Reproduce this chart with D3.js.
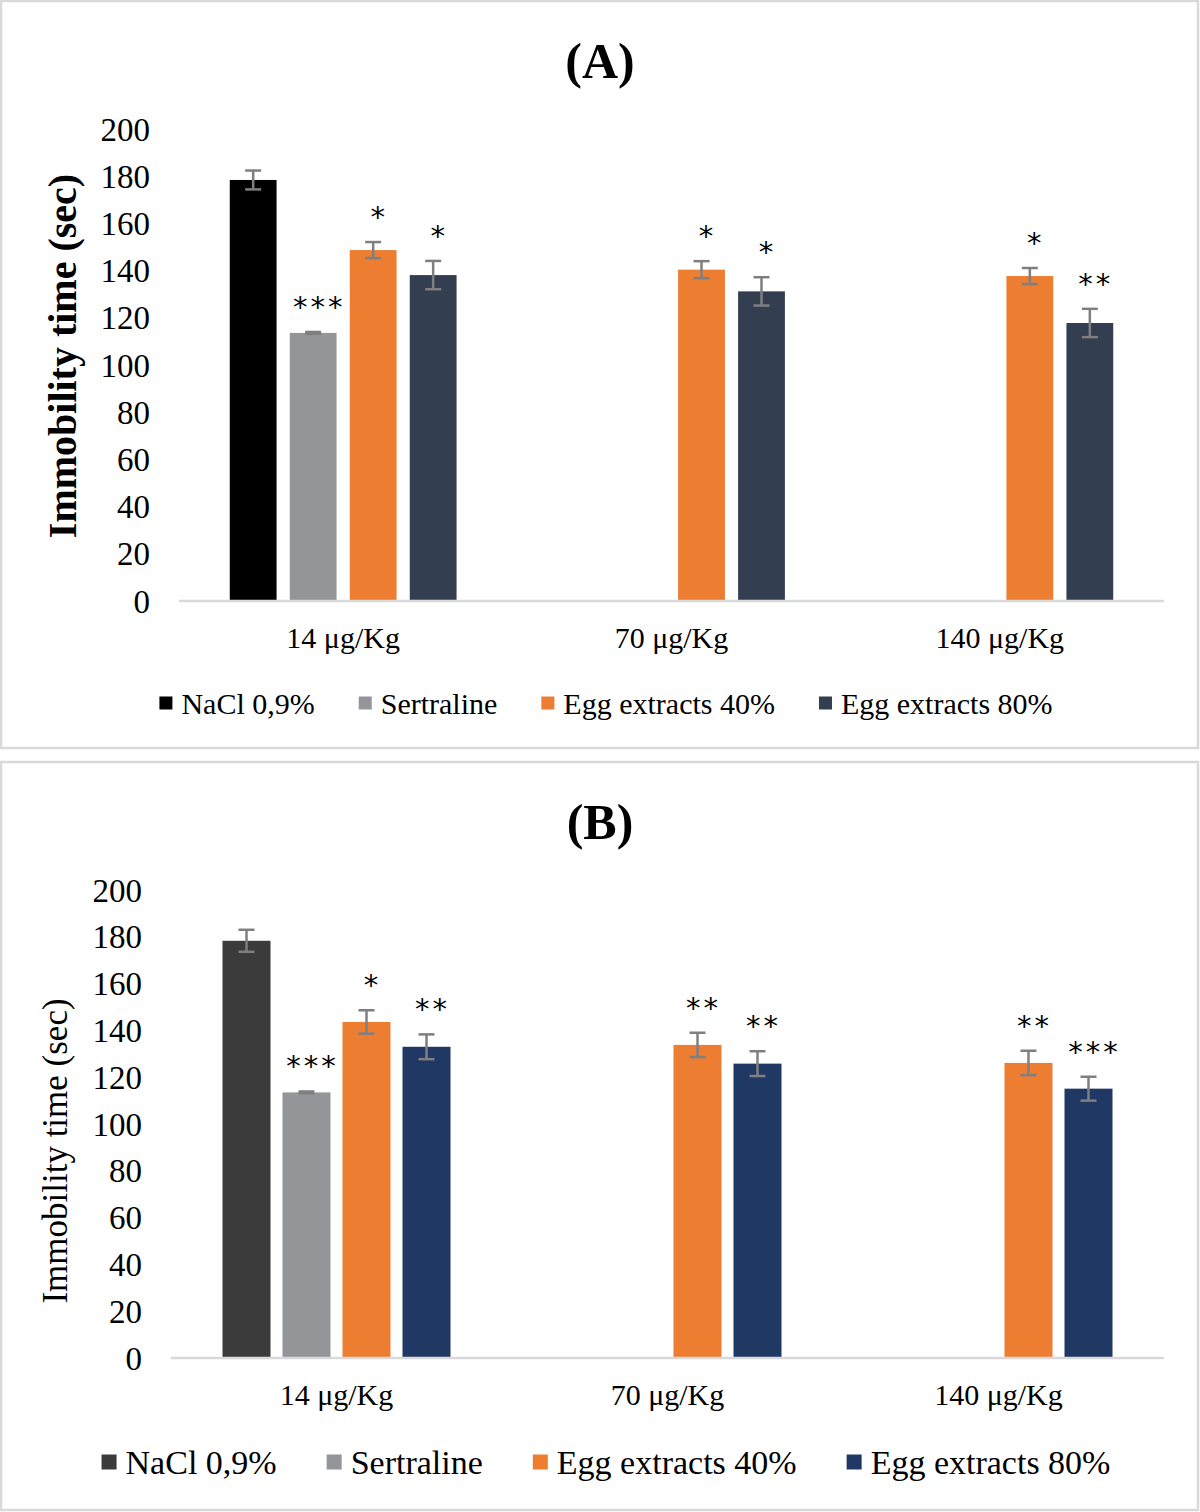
<!DOCTYPE html>
<html>
<head>
<meta charset="utf-8">
<script src="https://cdn.jsdelivr.net/npm/d3@7"></script>
<style>
    body { margin: 0; background: #fff; }
    svg { display: block; }
    text { font-family: "Liberation Serif", "Times New Roman", serif; fill: #000; }
    text.stars { font-family: "DejaVu Sans", sans-serif; }
</style>
</head>
<body>
<div id="chart"></div>
<script>
// data
const categories = ["14 μg/Kg", "70 μg/Kg", "140 μg/Kg"];
const seriesNames = ["NaCl 0,9%", "Sertraline", "Egg extracts 40%", "Egg extracts 80%"];
const yTicks = [0, 20, 40, 60, 80, 100, 120, 140, 160, 180, 200];

// panel A (null = no bar at that dose)
const nacl_A = [178.4, null, null];
const sertraline_A = [113.6, null, null];
const egg40_A = [148.7, 140.4, 137.7];
const egg80_A = [138.1, 131.2, 117.8];
const naclErr_A = [4.0, null, null];
const sertralineErr_A = [0.4, null, null];
const egg40Err_A = [3.4, 3.6, 3.4];
const egg80Err_A = [6.0, 6.0, 6.0];
const naclStars_A = ["", "", ""];
const sertralineStars_A = ["***", "", ""];
const egg40Stars_A = ["*", "*", "*"];
const egg80Stars_A = ["*", "*", "**"];

// panel B
const nacl_B = [178.3, null, null];
const sertraline_B = [113.5, null, null];
const egg40_B = [143.6, 133.8, 126.1];
const egg80_B = [133.0, 125.8, 115.1];
const naclErr_B = [4.7, null, null];
const sertralineErr_B = [0.4, null, null];
const egg40Err_B = [5.0, 5.2, 5.2];
const egg80Err_B = [5.3, 5.3, 5.1];
const naclStars_B = ["", "", ""];
const sertralineStars_B = ["***", "", ""];
const egg40Stars_B = ["*", "**", "**"];
const egg80Stars_B = ["**", "**", "***"];

const colorsA = ["#000000", "#939598", "#ED7D31", "#333F50"];
const colorsB = ["#3B3B3B", "#939598", "#ED7D31", "#203864"];


class BarPanel {

    constructor(_svg, _config) {
        this.svg = _svg;
        this.cfg = _config;
        this.initVis();
    }

    initVis() {
        let vis = this;
        let c = vis.cfg;

        vis.g = vis.svg.append("g");

        // frame
        vis.g.append("rect")
            .attr("x", 1).attr("y", c.frameTop)
            .attr("width", 1197).attr("height", c.frameHeight)
            .attr("fill", "#fff")
            .attr("stroke", "#d9d9d9")
            .attr("stroke-width", 2.5);

        vis.g.append("text")
            .attr("x", 600).attr("y", c.titleY)
            .attr("text-anchor", "middle")
            .attr("font-size", 50)
            .attr("font-weight", "bold")
            .text(c.title);

        vis.x0 = d3.scaleBand().domain(categories).range([c.left, c.right]);
        vis.x1 = d3.scaleBand().domain(seriesNames).range([-120, 120])
            .paddingInner(c.barPad).paddingOuter(c.barPad / 2);
        vis.y = d3.scaleLinear().domain([0, 200]).range([c.bottom, c.top]);

        // y tick labels, no axis line
        vis.g.selectAll(".ytick")
            .data(yTicks)
            .enter().append("text")
            .attr("class", "ytick")
            .attr("x", c.tickX)
            .attr("y", d => vis.y(d))
            .attr("dy", "0.35em")
            .attr("text-anchor", "end")
            .attr("font-size", 33)
            .text(d => d);

        vis.g.append("text")
            .attr("transform", `translate(${c.labelX}, ${c.labelY}) rotate(-90)`)
            .attr("text-anchor", "middle")
            .attr("font-size", c.labelSize)
            .attr("font-weight", c.labelBold ? "bold" : "normal")
            .text("Immobility time (sec)");

        // flatten series into bar records
        let bars = [];
        c.series.forEach((s, si) => {
            categories.forEach((cat, ci) => {
                if (s.values[ci] === null) return;
                bars.push({ cat: cat, name: seriesNames[si], color: c.colors[si],
                    v: s.values[ci], e: s.errors[ci], stars: s.stars[ci] });
            });
        });

        let bx = d => vis.x0(d.cat) + vis.x0.bandwidth() / 2 + vis.x1(d.name);
        let cx = d => bx(d) + vis.x1.bandwidth() / 2;

        vis.g.selectAll(".bar")
            .data(bars)
            .enter().append("rect")
            .attr("class", "bar")
            .attr("x", bx)
            .attr("y", d => vis.y(d.v))
            .attr("width", vis.x1.bandwidth())
            .attr("height", d => vis.y(0) - vis.y(d.v))
            .attr("fill", d => d.color);

        // baseline
        vis.g.append("line")
            .attr("x1", c.left).attr("x2", c.right)
            .attr("y1", vis.y(0)).attr("y2", vis.y(0))
            .attr("stroke", "#d9d9d9")
            .attr("stroke-width", 2.5);

        // error bars
        let err = vis.g.selectAll(".err")
            .data(bars)
            .enter().append("g")
            .attr("class", "err")
            .attr("stroke", "#7f7f7f")
            .attr("stroke-width", 2.5);
        err.append("line")
            .attr("x1", cx).attr("x2", cx)
            .attr("y1", d => vis.y(d.v + d.e)).attr("y2", d => vis.y(d.v - d.e));
        err.append("line")
            .attr("x1", d => cx(d) - 8).attr("x2", d => cx(d) + 8)
            .attr("y1", d => vis.y(d.v + d.e)).attr("y2", d => vis.y(d.v + d.e));
        err.append("line")
            .attr("x1", d => cx(d) - 8).attr("x2", d => cx(d) + 8)
            .attr("y1", d => vis.y(d.v - d.e)).attr("y2", d => vis.y(d.v - d.e));

        // significance stars
        vis.g.selectAll(".stars")
            .data(bars.filter(d => d.stars))
            .enter().append("text")
            .attr("class", "stars")
            .attr("x", d => cx(d) + 6)
            .attr("y", d => vis.y(d.v + d.e) - 15)
            .attr("text-anchor", "middle")
            .attr("font-size", 29)
            .attr("letter-spacing", 3)
            .text(d => d.stars);

        // category labels
        vis.g.selectAll(".xlab")
            .data(categories)
            .enter().append("text")
            .attr("class", "xlab")
            .attr("x", d => vis.x0(d) + vis.x0.bandwidth() / 2)
            .attr("y", c.catY)
            .attr("text-anchor", "middle")
            .attr("font-size", 30)
            .text(d => d);

        vis.drawLegend();
    }

    drawLegend() {
        let vis = this;
        let c = vis.cfg;
        let leg = vis.g.append("g");
        let xPos = 0;
        seriesNames.forEach((name, i) => {
            let item = leg.append("g").attr("transform", `translate(${xPos}, 0)`);
            item.append("rect")
                .attr("x", 0).attr("y", c.legendY - c.swatch / 2)
                .attr("width", c.swatch).attr("height", c.swatch)
                .attr("fill", c.colors[i]);
            let t = item.append("text")
                .attr("x", c.swatch + 9)
                .attr("y", c.legendY)
                .attr("dy", "0.35em")
                .attr("font-size", c.legendSize)
                .text(name);
            xPos += c.swatch + 9 + t.node().getComputedTextLength() + c.legendGap;
        });
        let total = xPos - c.legendGap;
        leg.attr("transform", `translate(${606 - total / 2}, 0)`);
    }
}

const svg = d3.select("#chart").append("svg")
    .attr("width", 1200)
    .attr("height", 1512);

new BarPanel(svg, {
    frameTop: 1, frameHeight: 747, title: "(A)", titleY: 78,
    left: 179, right: 1164, top: 129, bottom: 601, barPad: 0.22,
    tickX: 150, labelX: 76, labelY: 356, labelSize: 40, labelBold: true,
    catY: 648, legendY: 703, legendSize: 30, legendGap: 44, swatch: 13,
    colors: colorsA,
    series: [
        { values: nacl_A, errors: naclErr_A, stars: naclStars_A },
        { values: sertraline_A, errors: sertralineErr_A, stars: sertralineStars_A },
        { values: egg40_A, errors: egg40Err_A, stars: egg40Stars_A },
        { values: egg80_A, errors: egg80Err_A, stars: egg80Stars_A }
    ]
});

new BarPanel(svg, {
    frameTop: 762, frameHeight: 748, title: "(B)", titleY: 839,
    left: 171, right: 1164, top: 890, bottom: 1358, barPad: 0.2,
    tickX: 142, labelX: 67, labelY: 1151, labelSize: 35, labelBold: false,
    catY: 1405, legendY: 1462, legendSize: 34, legendGap: 50, swatch: 15,
    colors: colorsB,
    series: [
        { values: nacl_B, errors: naclErr_B, stars: naclStars_B },
        { values: sertraline_B, errors: sertralineErr_B, stars: sertralineStars_B },
        { values: egg40_B, errors: egg40Err_B, stars: egg40Stars_B },
        { values: egg80_B, errors: egg80Err_B, stars: egg80Stars_B }
    ]
});
</script>
</body>
</html>
